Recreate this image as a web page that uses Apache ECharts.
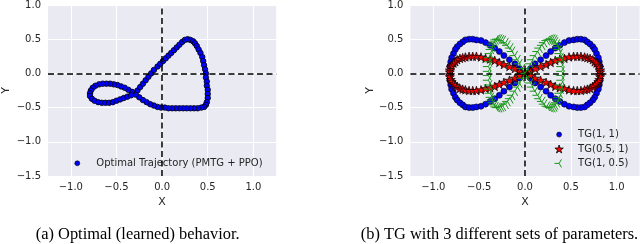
<!DOCTYPE html>
<html>
<head>
<meta charset="utf-8">
<script src="https://cdn.jsdelivr.net/npm/echarts@6/dist/echarts.min.js"></script>
<style>
html,body{margin:0;padding:0;background:#fff;}
#chart{width:640px;height:244px;}
</style>
</head>
<body>
<div id="chart"></div>
<script>
// ---------- data ----------
// (a) optimal learned trajectory
const optX = [-0.30,-0.27,-0.24,-0.21,-0.18,-0.15,-0.12,-0.09,-0.05,-0.02,0.01,0.04,0.07,0.10,0.13,0.16,0.19,0.22,0.25,0.28,
  0.31,0.34,0.36,0.38,0.40,0.42,0.44,0.45,0.46,0.47,0.48,
  0.48,0.49,0.49,0.50,0.50,0.50,0.49,0.48,0.46,0.43,
  0.39,0.35,0.31,0.27,0.23,0.19,0.15,0.11,0.07,0.03,-0.01,-0.05,
  -0.09,-0.13,-0.17,-0.21,-0.25,-0.29,
  -0.33,-0.37,-0.41,-0.45,-0.49,-0.53,-0.57,-0.61,-0.65,-0.69,-0.73,-0.76,-0.78,-0.79,-0.79,-0.77,-0.74,-0.70,-0.66,-0.62,-0.58,-0.54,-0.50,-0.46,-0.42,-0.38,-0.34];
const optY = [-0.30,-0.25,-0.20,-0.15,-0.10,-0.05,0.00,0.05,0.10,0.14,0.18,0.22,0.26,0.30,0.34,0.38,0.42,0.46,0.49,0.50,
  0.49,0.47,0.44,0.40,0.35,0.30,0.24,0.18,0.12,0.06,0.00,
  -0.06,-0.12,-0.18,-0.24,-0.30,-0.36,-0.42,-0.46,-0.49,-0.50,
  -0.51,-0.51,-0.51,-0.51,-0.51,-0.51,-0.51,-0.51,-0.51,-0.50,-0.50,-0.49,
  -0.47,-0.45,-0.42,-0.39,-0.35,-0.31,
  -0.27,-0.24,-0.21,-0.19,-0.17,-0.16,-0.15,-0.15,-0.15,-0.16,-0.18,-0.21,-0.25,-0.29,-0.33,-0.37,-0.40,-0.42,-0.43,-0.43,-0.43,-0.42,-0.40,-0.38,-0.36,-0.34,-0.32];

// (b) TG with three parameter sets
const tgWideX = [0,0.06,0.11,0.17,0.23,0.28,0.33,0.38,0.43,0.48,0.53,0.57,0.61,0.65,0.68,0.71,0.74,0.76,0.78,0.80,0.81,0.82,0.82,
  0.82,0.82,0.81,0.80,0.78,0.76,0.74,0.71,0.68,0.65,0.61,0.57,0.53,0.48,0.43,0.38,0.33,0.28,0.23,0.17,0.11,0.06,
  0,
  -0.06,-0.11,-0.17,-0.23,-0.28,-0.33,-0.38,-0.43,-0.48,-0.53,-0.57,-0.61,-0.65,-0.68,-0.71,-0.74,-0.76,-0.78,-0.80,-0.81,-0.82,-0.82,
  -0.82,-0.82,-0.81,-0.80,-0.78,-0.76,-0.74,-0.71,-0.68,-0.65,-0.61,-0.57,-0.53,-0.48,-0.43,-0.38,-0.33,-0.28,-0.23,-0.17,-0.11,-0.06];
const tg11Y = [0,0.07,0.14,0.20,0.26,0.32,0.37,0.41,0.45,0.48,0.49,0.50,0.50,0.49,0.46,0.43,0.39,0.35,0.29,0.23,0.17,0.10,0.03,
  -0.03,-0.10,-0.17,-0.23,-0.29,-0.35,-0.39,-0.43,-0.46,-0.49,-0.50,-0.50,-0.49,-0.48,-0.45,-0.41,-0.37,-0.32,-0.26,-0.20,-0.14,-0.07,
  0,0.07,0.14,0.20,0.26,0.32,0.37,0.41,0.45,0.48,0.49,0.50,0.50,0.49,0.46,0.43,0.39,0.35,0.29,0.23,0.17,0.10,0.03,
  -0.03,-0.10,-0.17,-0.23,-0.29,-0.35,-0.39,-0.43,-0.46,-0.49,-0.50,-0.50,-0.49,-0.48,-0.45,-0.41,-0.37,-0.32,-0.26,-0.20,-0.14,-0.07];
const tg051Y = [0,0.03,0.07,0.10,0.13,0.16,0.19,0.21,0.22,0.24,0.25,0.25,0.25,0.24,0.23,0.22,0.20,0.17,0.15,0.12,0.09,0.05,0.02,
  -0.02,-0.05,-0.09,-0.12,-0.15,-0.17,-0.20,-0.22,-0.23,-0.24,-0.25,-0.25,-0.25,-0.24,-0.22,-0.21,-0.19,-0.16,-0.13,-0.10,-0.07,-0.03,
  0,0.03,0.07,0.10,0.13,0.16,0.19,0.21,0.22,0.24,0.25,0.25,0.25,0.24,0.23,0.22,0.20,0.17,0.15,0.12,0.09,0.05,0.02,
  -0.02,-0.05,-0.09,-0.12,-0.15,-0.17,-0.20,-0.22,-0.23,-0.24,-0.25,-0.25,-0.25,-0.24,-0.22,-0.21,-0.19,-0.16,-0.13,-0.10,-0.07,-0.03];
const tg105X = [0,0.03,0.06,0.08,0.11,0.14,0.16,0.19,0.21,0.24,0.26,0.28,0.30,0.32,0.33,0.35,0.36,0.37,0.38,0.39,0.39,0.40,0.40,
  0.40,0.40,0.39,0.39,0.38,0.37,0.36,0.35,0.33,0.32,0.30,0.28,0.26,0.24,0.21,0.19,0.16,0.14,0.11,0.08,0.06,0.03,
  0,
  -0.03,-0.06,-0.08,-0.11,-0.14,-0.16,-0.19,-0.21,-0.24,-0.26,-0.28,-0.30,-0.32,-0.33,-0.35,-0.36,-0.37,-0.38,-0.39,-0.39,-0.40,-0.40,
  -0.40,-0.40,-0.39,-0.39,-0.38,-0.37,-0.36,-0.35,-0.33,-0.32,-0.30,-0.28,-0.26,-0.24,-0.21,-0.19,-0.16,-0.14,-0.11,-0.08,-0.06,-0.03];
const tg105Y = [0,0.07,0.14,0.20,0.26,0.32,0.37,0.41,0.45,0.48,0.49,0.50,0.50,0.49,0.46,0.43,0.39,0.35,0.29,0.23,0.17,0.10,0.03,
  -0.03,-0.10,-0.17,-0.23,-0.29,-0.35,-0.39,-0.43,-0.46,-0.49,-0.50,-0.50,-0.49,-0.48,-0.45,-0.41,-0.37,-0.32,-0.26,-0.20,-0.14,-0.07,
  0,0.07,0.14,0.20,0.26,0.32,0.37,0.41,0.45,0.48,0.49,0.50,0.50,0.49,0.46,0.43,0.39,0.35,0.29,0.23,0.17,0.10,0.03,
  -0.03,-0.10,-0.17,-0.23,-0.29,-0.35,-0.39,-0.43,-0.46,-0.49,-0.50,-0.50,-0.49,-0.48,-0.45,-0.41,-0.37,-0.32,-0.26,-0.20,-0.14,-0.07];

const seriesNames = ['Optimal Trajectory (PMTG + PPO)', 'TG(1, 1)', 'TG(0.5, 1)', 'TG(1, 0.5)'];
const xTicks = [-1.0, -0.5, 0.0, 0.5, 1.0];
const yTicks = [-1.5, -1.0, -0.5, 0.0, 0.5, 1.0];
const captions = ['(a) Optimal (learned) behavior.', '(b) TG with 3 different sets of parameters.'];

// ---------- styling ----------
const TEXT = '#262626';
const FONT = 'DejaVu Sans';
const GREEN = '#1a961a';
const STAR = 'path://M10,0L12.25,6.91L19.51,6.91L13.63,11.18L15.88,18.09L10,13.82L4.12,18.09L6.37,11.18L0.49,6.91L7.75,6.91Z';
const TRI_LEFT = 'path://M10,10L0,10M10,10L15,1.34M10,10L15,18.66M20,10';
const SMALL_DOT = 'path://M0,0M10,10M1.9,5A3.1,3.1 0 1,0 8.1,5A3.1,3.1 0 1,0 1.9,5Z';

function zip(xs, ys) { return xs.map((x, i) => [x, ys[i]]); }
const fmt = v => v.toFixed(1).replace('-', '\u2212');

function xAxisCfg(gi) {
  return {
    gridIndex: gi, type: 'value', min: -1.25, max: 1.25,
    name: 'X', nameLocation: 'middle', nameGap: 19,
    nameTextStyle: { color: TEXT, fontFamily: FONT, fontSize: 11 },
    axisLine: { show: false },
    axisTick: { show: false, customValues: xTicks },
    axisLabel: { customValues: xTicks, formatter: fmt, color: TEXT, fontFamily: FONT, fontSize: 10, margin: 6 },
    splitLine: { show: true, lineStyle: { color: '#ffffff', width: 1 } }
  };
}
function yAxisCfg(gi) {
  return {
    gridIndex: gi, type: 'value', min: yTicks[0], max: yTicks[yTicks.length - 1], interval: 0.5,
    name: 'Y', nameLocation: 'middle', nameGap: gi === 0 ? 36 : 34, nameRotate: 90,
    nameTextStyle: { color: TEXT, fontFamily: FONT, fontSize: 11 },
    axisLine: { show: false },
    axisTick: { show: false },
    axisLabel: { formatter: fmt, color: TEXT, fontFamily: FONT, fontSize: 10, margin: 7 },
    splitLine: { show: true, lineStyle: { color: '#ffffff', width: 1 } }
  };
}
const dashLines = {
  silent: true, symbol: ['none', 'none'], animation: false,
  label: { show: false },
  lineStyle: { color: '#000', width: 1.5, type: [6, 3.5] },
  emphasis: { disabled: true },
  data: [{ xAxis: 0 }, { yAxis: 0 }]
};
const capFont = '16.4px "Liberation Serif"';

const option = {
  animation: false,
  backgroundColor: '#ffffff',
  grid: [
    { left: 47.4, top: 5, width: 228.8, height: 171, backgroundColor: '#EAEAF2', show: true, borderWidth: 0 },
    { left: 410.4, top: 5, width: 229.2, height: 171, backgroundColor: '#EAEAF2', show: true, borderWidth: 0 }
  ],
  xAxis: [xAxisCfg(0), xAxisCfg(1)],
  yAxis: [yAxisCfg(0), yAxisCfg(1)],
  legend: [
    {
      left: 73, top: 158.3, padding: 0, itemWidth: 28, itemHeight: 8, selectedMode: false,
      textStyle: { color: TEXT, fontFamily: FONT, fontSize: 10 },
      data: [{ name: seriesNames[0], icon: SMALL_DOT, itemStyle: { borderWidth: 0.6, borderColor: '#000' } }]
    },
    {
      left: 554, top: 129.6, padding: 0, orient: 'vertical', itemWidth: 28, itemHeight: 8, itemGap: 4.4, selectedMode: false,
      textStyle: { color: TEXT, fontFamily: FONT, fontSize: 10 },
      data: [
        { name: seriesNames[1], icon: SMALL_DOT, itemStyle: { borderWidth: 0.6, borderColor: '#000' } },
        { name: seriesNames[2], icon: STAR, itemStyle: { borderWidth: 0.8, borderColor: '#000' } },
        { name: seriesNames[3], icon: TRI_LEFT, itemStyle: { color: 'transparent', borderWidth: 1, borderColor: GREEN } }
      ]
    }
  ],
  series: [
    {
      name: seriesNames[0], type: 'scatter', xAxisIndex: 0, yAxisIndex: 0,
      data: zip(optX, optY), symbol: 'circle', symbolSize: 5.5,
      itemStyle: { color: '#0000ff', borderColor: '#000', borderWidth: 0.8, opacity: 1 },
      emphasis: { disabled: true },
      markLine: dashLines
    },
    {
      name: seriesNames[1], type: 'scatter', xAxisIndex: 1, yAxisIndex: 1,
      data: zip(tgWideX, tg11Y), symbol: 'circle', symbolSize: 6,
      itemStyle: { color: '#0000ff', borderColor: '#000', borderWidth: 0.6, opacity: 1 },
      emphasis: { disabled: true }
    },
    {
      name: seriesNames[2], type: 'scatter', xAxisIndex: 1, yAxisIndex: 1,
      data: zip(tgWideX, tg051Y), symbol: STAR, symbolSize: 9, symbolKeepAspect: true,
      itemStyle: { color: '#ff0000', borderColor: '#000', borderWidth: 0.7, opacity: 1 },
      emphasis: { disabled: true }
    },
    {
      name: seriesNames[3], type: 'scatter', xAxisIndex: 1, yAxisIndex: 1,
      data: zip(tg105X, tg105Y), symbol: TRI_LEFT, symbolSize: 11, symbolKeepAspect: true,
      itemStyle: { color: 'transparent', borderColor: GREEN, borderWidth: 1, opacity: 1 },
      emphasis: { disabled: true },
      markLine: dashLines
    }
  ],
  graphic: [
    { type: 'text', x: 137.7, y: 235, style: { text: captions[0], font: capFont, fill: '#000', textAlign: 'center', textVerticalAlign: 'middle' } },
    { type: 'text', x: 499.5, y: 235, style: { text: captions[1], font: capFont, fill: '#000', textAlign: 'center', textVerticalAlign: 'middle' } }
  ]
};

const chart = echarts.init(document.getElementById('chart'), null, { renderer: 'canvas' });
chart.setOption(option);
</script>
</body>
</html>
